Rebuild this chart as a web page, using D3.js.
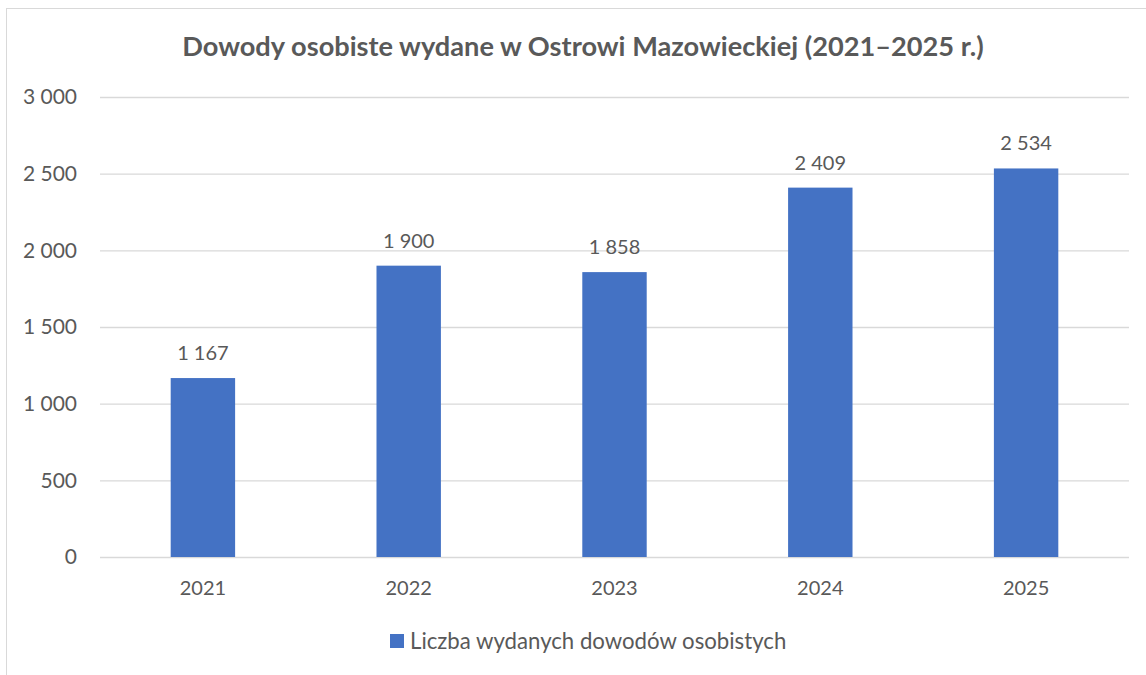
<!DOCTYPE html>
<html>
<head>
<meta charset="utf-8">
<script src="https://cdn.jsdelivr.net/npm/d3@7"></script>
<style>
  body { margin: 0; background: #fff; }
  text { font-family: Lato, "Open Sans", sans-serif; fill: #595959; }
</style>
</head>
<body>
<div id="chart"></div>
<script>
"use strict";

// data
const years = ["2021", "2022", "2023", "2024", "2025"];
const counts = [1167, 1900, 1858, 2409, 2534];
const yTicks = [0, 500, 1000, 1500, 2000, 2500, 3000];
const chartTitle = "Dowody osobiste wydane w Ostrowi Mazowieckiej (2021–2025 r.)";
const seriesName = "Liczba wydanych dowodów osobistych";

const msm = {
    width: 1146,
    height: 675,
    left: 100,
    right: 1129,
    top: 97,
    bottom: 557
}

// "1 900" style numbers
const fmt = d => d3.format(",")(d).replace(/,/g, " ");

const svg = d3.select("#chart")
    .append("svg")
    .attr("width", msm.width)
    .attr("height", msm.height);

// chart area border (cropped at right and bottom like the original)
svg.append("rect")
    .attr("x", 6.5)
    .attr("y", 8.5)
    .attr("width", 1200)
    .attr("height", 700)
    .attr("fill", "none")
    .attr("stroke", "#d9d9d9");

const xScale = d3.scaleBand()
    .domain(years)
    .range([msm.left, msm.right])
    .paddingInner(0.687)
    .paddingOuter(0.3435);

const yScale = d3.scaleLinear()
    .domain([0, 3000])
    .range([msm.bottom, msm.top]);

// gridlines + y labels
const yAxis = d3.axisLeft(yScale)
    .tickValues(yTicks)
    .tickFormat(fmt)
    .tickSize(-(msm.right - msm.left))
    .tickPadding(23);

const yG = svg.append("g")
    .attr("transform", "translate(" + msm.left + ",0)")
    .call(yAxis);
yG.select(".domain").remove();
yG.selectAll(".tick line").attr("stroke", "#d9d9d9").attr("stroke-width", 1.3);
yG.selectAll(".tick text")
    .style("font-size", "21px")
    .style("font-family", "Lato, sans-serif")
    .attr("fill", "#595959");

// x labels
const xAxis = d3.axisBottom(xScale).tickSize(0).tickPadding(0);
const xG = svg.append("g")
    .attr("transform", "translate(0," + msm.bottom + ")")
    .call(xAxis);
xG.select(".domain").remove();
xG.selectAll(".tick text")
    .attr("y", 38)
    .attr("dy", null)
    .style("font-size", "20px")
    .style("font-family", "Lato, sans-serif")
    .attr("fill", "#595959");

// bars
svg.selectAll(".bar")
    .data(counts)
    .enter()
    .append("rect")
    .attr("class", "bar")
    .attr("x", (d, i) => xScale(years[i]))
    .attr("width", xScale.bandwidth())
    .attr("y", d => yScale(d))
    .attr("height", d => yScale(0) - yScale(d))
    .attr("fill", "#4472c4");

// value labels
svg.selectAll(".val")
    .data(counts)
    .enter()
    .append("text")
    .attr("class", "val")
    .attr("x", (d, i) => xScale(years[i]) + xScale.bandwidth() / 2)
    .attr("y", d => yScale(d) - 18)
    .attr("text-anchor", "middle")
    .style("font-size", "20px")
    .text(fmt);

// title
svg.append("text")
    .attr("x", 583)
    .attr("y", 56)
    .attr("text-anchor", "middle")
    .style("font-size", "27.2px")
    .style("font-weight", "bold")
    .text(chartTitle);

// legend
svg.append("rect")
    .attr("x", 390)
    .attr("y", 634)
    .attr("width", 14)
    .attr("height", 14)
    .attr("fill", "#4472c4");

svg.append("text")
    .attr("x", 410)
    .attr("y", 649)
    .style("font-size", "22.2px")
    .text(seriesName);
</script>
</body>
</html>
